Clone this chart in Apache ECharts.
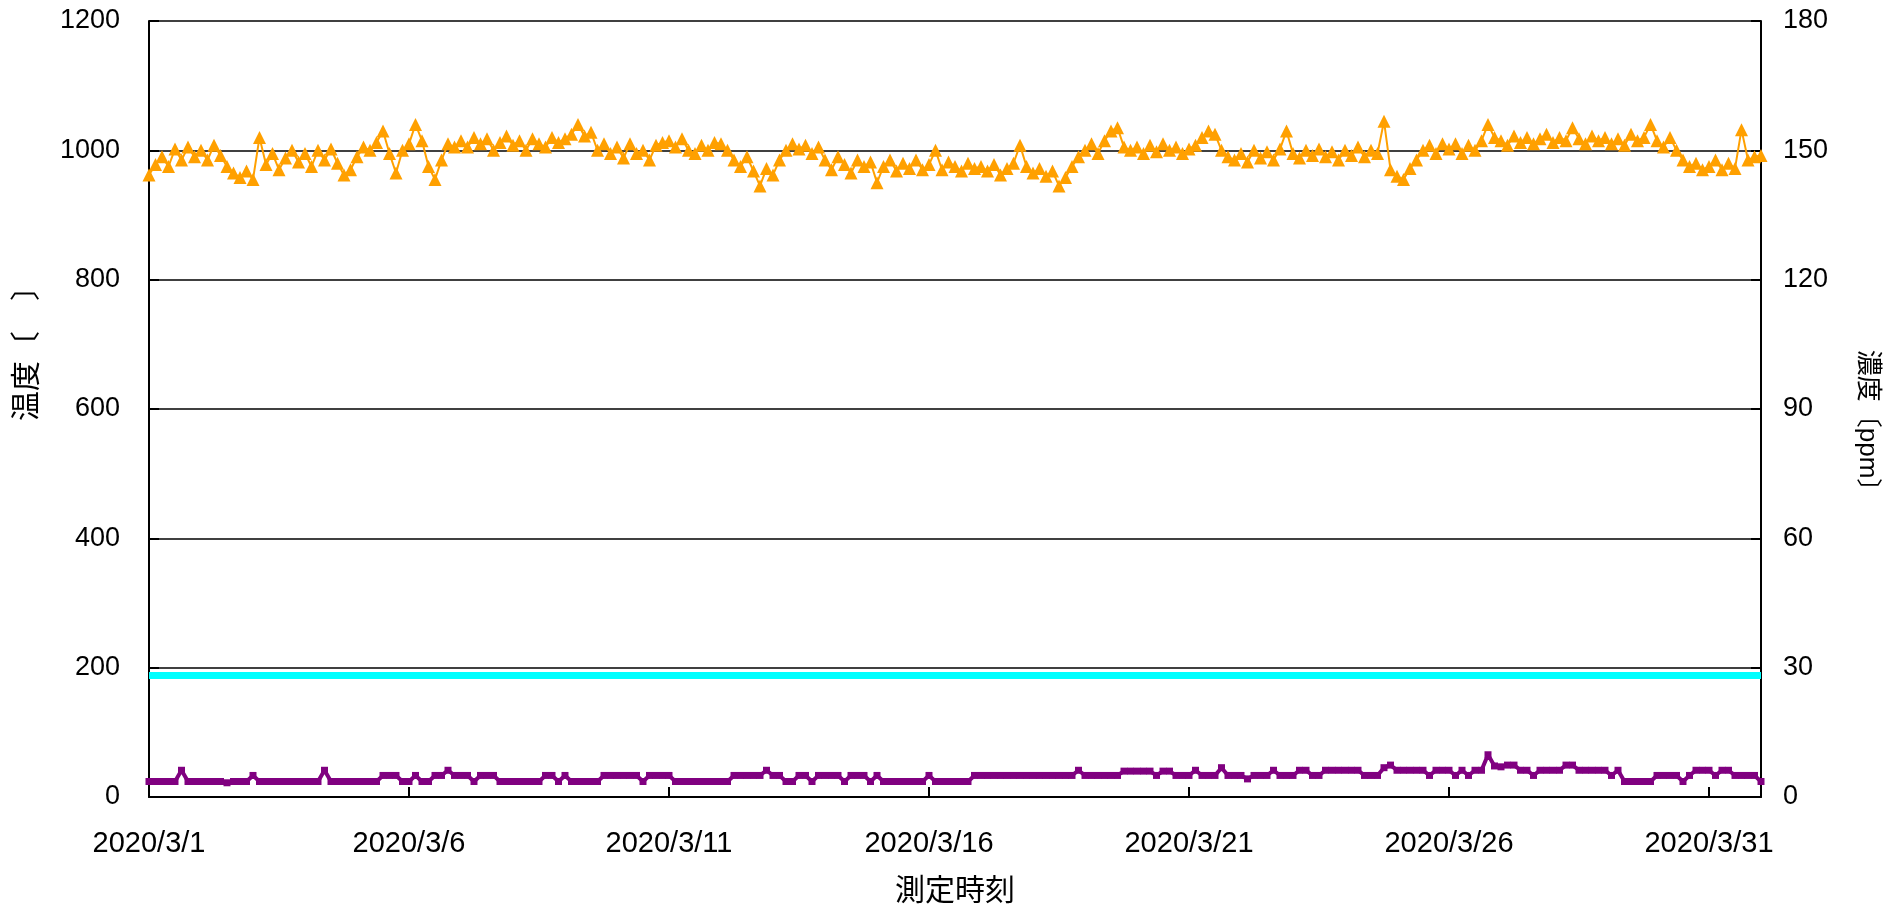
<!DOCTYPE html>
<html>
<head>
<meta charset="utf-8">
<script src="https://cdn.jsdelivr.net/npm/echarts@6/dist/echarts.min.js"></script>
<style>
html,body{margin:0;padding:0;background:#fff;}
#chart{width:1888px;height:913px;}
</style>
</head>
<body>
<div id="chart"></div>
<script>
// x categories: 3-hour steps from 2020/3/1 0:00 to 2020/4/1 0:00
const timeLabels = [];
for (let i = 0; i <= 248; i++) {
  const d = new Date(Date.UTC(2020, 2, 1) + i * 3 * 3600 * 1000);
  timeLabels.push(d.getUTCFullYear() + '/' + (d.getUTCMonth() + 1) + '/' + d.getUTCDate() + ' ' + d.getUTCHours() + ':00');
}

// 温度 (left axis) – orange triangles, 8 readings per day
const temperature = [
  962, 978, 990, 975, 1002, 985, 1005, 990,
  1000, 985, 1008, 992, 975, 965, 958, 968,
  955, 1020, 978, 995, 970, 988, 1000, 982,
  995, 975, 1000, 985, 1002, 980, 962, 970,
  990, 1005, 1000, 1012, 1030, 995, 965, 1000,
  1010, 1040, 1015, 975, 955, 985, 1010, 1005,
  1015, 1005, 1020, 1010, 1018, 1000, 1012, 1022,
  1008, 1015, 1000, 1018, 1010, 1005, 1020, 1012,
  1018, 1025, 1040, 1022, 1028, 1000, 1010, 995,
  1005, 988, 1010, 995, 1000, 985, 1008, 1012,
  1015, 1005, 1018, 1000, 995, 1008, 1000, 1012,
  1010, 1000, 985, 975, 990, 968, 945, 972,
  962, 985, 1000, 1010, 1002, 1008, 995, 1005,
  985, 970, 990, 978, 965, 985, 975, 982,
  950, 975, 985, 968, 980, 972, 985, 970,
  978, 1000, 970, 982, 975, 968, 980, 972,
  975, 968, 978, 962, 972, 980, 1008, 975,
  965, 972, 960, 968, 945, 958, 975, 990,
  1000, 1010, 995, 1015, 1030, 1035, 1005, 1000,
  1005, 995, 1008, 998, 1010, 1000, 1005, 995,
  1002, 1008, 1020, 1030, 1025, 1000, 990, 985,
  995, 982, 1000, 988, 998, 985, 1002, 1030,
  995, 988, 1000, 992, 1002, 990, 998, 985,
  1000, 992, 1005, 990, 1000, 995, 1045, 970,
  960, 955, 972, 985, 1000, 1008, 995, 1010,
  1002, 1010, 995, 1008, 1000, 1015, 1040, 1020,
  1015, 1008, 1022, 1012, 1020, 1010, 1018, 1025,
  1012, 1020, 1015, 1035, 1018, 1010, 1022, 1015,
  1020, 1010, 1018, 1008, 1025, 1015, 1020, 1040,
  1015, 1005, 1020, 1000, 985, 975, 980, 970,
  975, 985, 970, 980, 972, 1032, 985, 990,
  992
];

// 濃度 (right axis) – purple, 8 readings per day
const concentration = [
  3.6, 3.6, 3.6, 3.6, 3.6, 6.2, 3.6, 3.6,
  3.6, 3.6, 3.6, 3.6, 3.3, 3.6, 3.6, 3.6,
  5.0, 3.6, 3.6, 3.6, 3.6, 3.6, 3.6, 3.6,
  3.6, 3.6, 3.6, 6.2, 3.6, 3.6, 3.6, 3.6,
  3.6, 3.6, 3.6, 3.6, 5.0, 5.0, 5.0, 3.6,
  3.6, 5.0, 3.6, 3.6, 5.0, 5.0, 6.2, 5.0,
  5.0, 5.0, 3.6, 5.0, 5.0, 5.0, 3.6, 3.6,
  3.6, 3.6, 3.6, 3.6, 3.6, 5.0, 5.0, 3.6,
  5.0, 3.6, 3.6, 3.6, 3.6, 3.6, 5.0, 5.0,
  5.0, 5.0, 5.0, 5.0, 3.6, 5.0, 5.0, 5.0,
  5.0, 3.6, 3.6, 3.6, 3.6, 3.6, 3.6, 3.6,
  3.6, 3.6, 5.0, 5.0, 5.0, 5.0, 5.0, 6.2,
  5.0, 5.0, 3.6, 3.6, 5.0, 5.0, 3.6, 5.0,
  5.0, 5.0, 5.0, 3.6, 5.0, 5.0, 5.0, 3.6,
  5.0, 3.6, 3.6, 3.6, 3.6, 3.6, 3.6, 3.6,
  5.0, 3.6, 3.6, 3.6, 3.6, 3.6, 3.6, 5.0,
  5.0, 5.0, 5.0, 5.0, 5.0, 5.0, 5.0, 5.0,
  5.0, 5.0, 5.0, 5.0, 5.0, 5.0, 5.0, 6.2,
  5.0, 5.0, 5.0, 5.0, 5.0, 5.0, 6.0, 6.0,
  6.0, 6.0, 6.0, 5.0, 6.0, 6.0, 5.0, 5.0,
  5.0, 6.2, 5.0, 5.0, 5.0, 6.8, 5.0, 5.0,
  5.0, 4.2, 5.0, 5.0, 5.0, 6.2, 5.0, 5.0,
  5.0, 6.2, 6.2, 5.0, 5.0, 6.2, 6.2, 6.2,
  6.2, 6.2, 6.2, 5.0, 5.0, 5.0, 6.8, 7.4,
  6.2, 6.2, 6.2, 6.2, 6.2, 5.0, 6.2, 6.2,
  6.2, 5.0, 6.2, 5.0, 6.2, 6.2, 9.8, 7.2,
  7.0, 7.4, 7.4, 6.2, 6.2, 5.0, 6.2, 6.2,
  6.2, 6.2, 7.4, 7.4, 6.2, 6.2, 6.2, 6.2,
  6.2, 5.0, 6.2, 3.6, 3.6, 3.6, 3.6, 3.6,
  5.0, 5.0, 5.0, 5.0, 3.6, 5.0, 6.2, 6.2,
  6.2, 5.0, 6.2, 6.2, 5.0, 5.0, 5.0, 5.0,
  3.6
];

// constant reference level (right axis), cyan
const cyanTimes = ['2020/3/1 0:00', '2020/4/1 0:00'];
const cyanLevel = [28.2, 28.2];

const leftTicks = { min: 0, max: 1200, interval: 200 };
const rightTicks = { min: 0, max: 180, interval: 30 };

const chart = echarts.init(document.getElementById('chart'), null, { renderer: 'canvas' });
const numFont = 'Liberation Sans, Arial, sans-serif';
const jpFont = 'Liberation Sans, Noto Sans CJK JP, sans-serif';

chart.setOption({
  animation: false,
  backgroundColor: '#ffffff',
  grid: { left: 149, right: 126, top: 21, bottom: 116, containLabel: false },
  xAxis: {
    type: 'category',
    data: timeLabels,
    boundaryGap: false,
    name: '測定時刻',
    nameLocation: 'middle',
    nameGap: 80,
    nameTextStyle: { fontSize: 30, color: '#000', fontFamily: jpFont },
    axisLine: { show: true, lineStyle: { color: '#000', width: 2 } },
    axisTick: { show: true, inside: true, length: 10, interval: 39, lineStyle: { color: '#000', width: 2 } },
    axisLabel: {
      interval: 39, margin: 32, fontSize: 29, color: '#000', fontFamily: numFont,
      formatter: v => v.split(' ')[0]
    },
    splitLine: { show: false }
  },
  yAxis: [
    {
      type: 'value', min: leftTicks.min, max: leftTicks.max, interval: leftTicks.interval,
      position: 'left',
      name: '温度〔　〕',
      nameLocation: 'middle',
      nameGap: 106,
      nameTextStyle: { fontSize: 30, color: '#000', fontFamily: jpFont, padding: [0, 0, 0, 126] },
      axisLine: { show: true, lineStyle: { color: '#000', width: 2 } },
      axisTick: { show: true, inside: true, length: 10, lineStyle: { color: '#000', width: 2 } },
      axisLabel: { margin: 29, fontSize: 27, color: '#000', fontFamily: numFont, formatter: v => String(v) },
      splitLine: { show: true, lineStyle: { color: '#000', width: 1.5 } }
    },
    {
      type: 'value', min: rightTicks.min, max: rightTicks.max, interval: rightTicks.interval,
      position: 'right',
      name: '濃度〔ppm〕',
      nameLocation: 'middle',
      nameRotate: -90,
      nameGap: 93,
      nameTextStyle: { fontSize: 26, color: '#000', fontFamily: jpFont, padding: [0, 0, 0, 36] },
      axisLine: { show: true, lineStyle: { color: '#000', width: 2 } },
      axisTick: { show: true, inside: true, length: 10, lineStyle: { color: '#000', width: 2 } },
      axisLabel: { margin: 22, fontSize: 27, color: '#000', fontFamily: numFont, formatter: v => String(v) },
      splitLine: { show: false }
    }
  ],
  series: [
    {
      name: 'cyan', type: 'line', yAxisIndex: 1,
      data: cyanTimes.map((t, i) => [t, cyanLevel[i]]),
      symbol: 'none',
      lineStyle: { color: '#00FFFF', width: 7 },
      itemStyle: { color: '#00FFFF' },
      z: 2
    },
    {
      name: 'purple', type: 'line', yAxisIndex: 1,
      data: concentration,
      symbol: 'rect', symbolSize: 7, showAllSymbol: true,
      lineStyle: { color: '#800080', width: 4 },
      itemStyle: { color: '#800080' },
      z: 3
    },
    {
      name: 'orange', type: 'line', yAxisIndex: 0,
      data: temperature,
      symbol: 'triangle', symbolSize: 13, showAllSymbol: true,
      lineStyle: { color: '#FFA000', width: 2 },
      itemStyle: { color: '#FFA000' },
      z: 4
    }
  ]
});
</script>
</body>
</html>
